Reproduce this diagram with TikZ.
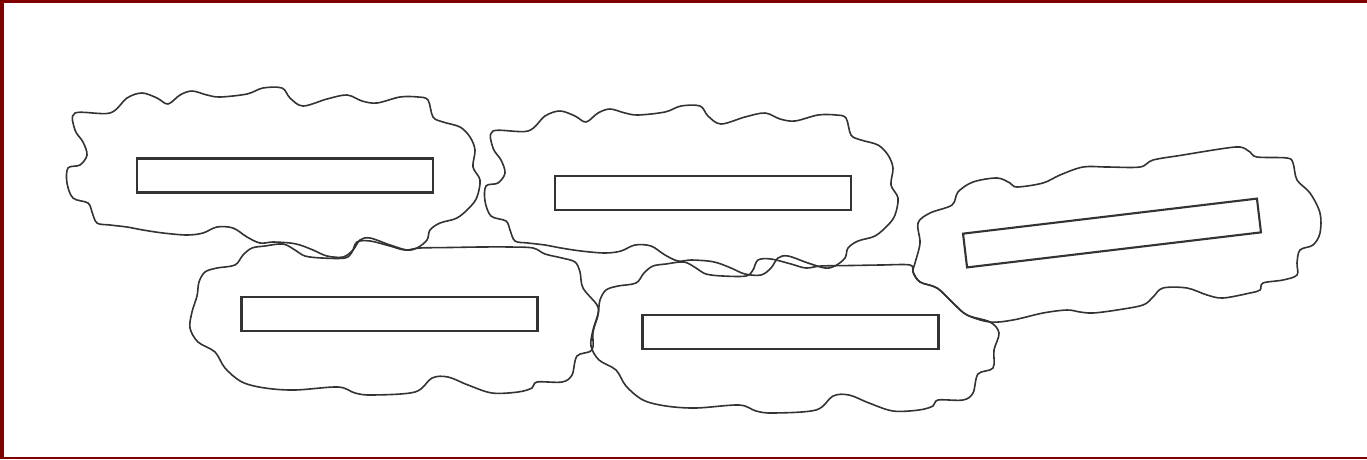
\documentclass[tikz,border=0pt]{standalone}
\begin{document}
\begin{tikzpicture}[x=1pt,y=-1pt,
  blob/.style={draw=black!80, line width=1.6pt, line join=round},
  bar/.style={draw=black!80, line width=2.1pt, minimum width=296pt, minimum height=34pt, inner sep=0pt},
  frame/.style={fill=red!50!black}]
\useasboundingbox (0,0) rectangle (1367,459);
\fill[frame] (0,0) rectangle (1367,3);
\fill[frame] (0,0) rectangle (4,459);
\fill[frame] (0,457) rectangle (1367,459);
\newcommand\blobshapeA{%
\draw[blob] plot[smooth cycle, tension=0.55] coordinates {
(75,113) (110,113) (127,98) (142,93) (157,98) (168,104) (180,95) (192,91) (207,95) (220,97)
(247,94) (263,88) (282,88) (290,98) (303,106) (327,99) (347,95) (362,101) (377,103) (400,97)
(418,97) (428,100) (433,117) (443,122) (460,127) (470,137) (475,150) (473,167) (480,180)
(477,197) (470,207) (457,218) (440,223) (430,230) (427,240) (417,248) (407,250) (390,245)
(370,238) (360,240) (353,250) (343,257) (327,256) (313,250) (300,245) (290,243) (273,242)
(260,243) (247,237) (233,228) (217,227) (203,233) (187,235) (163,233) (143,230) (127,227)
(110,225) (97,223) (92,212) (88,203) (73,198) (67,183) (68,168) (80,165) (87,155) (83,142) (75,130)};}
% blob 1 and 2
\blobshapeA
\begin{scope}[shift={(418,18)}]\blobshapeA\end{scope}
% blob 4
\draw[blob] plot[smooth cycle, tension=0.55] coordinates {
(190,328) (192,312) (197,296) (199,282) (205,272) (217,268) (235,265) (243,255) (252,248)
(265,246) (283,244) (295,250) (305,256) (322,258) (345,258) (352,252) (357,242) (370,241)
(390,246) (405,250) (420,248) (450,247.5) (480,247) (510,247) (533,248) (545,254) (562,258)
(575,262) (580,272) (583,288) (597,305) (598,315) (593,332) (592,350) (577,356) (572,375)
(562,382) (537,382) (532,388) (518,392) (492,393) (468,385) (448,377) (432,378) (415,392)
(372,395) (355,393) (338,387) (295,390) (265,388) (242,382) (225,368) (215,352) (198,342)};
% blob 5
\draw[blob] plot[smooth cycle, tension=0.55] coordinates {
(591,346) (593,330) (598,314) (600,300) (606,290) (618,286) (636,283) (644,273) (653,266)
(666,264) (684,262) (696,268) (706,274) (723,276) (746,276) (753,270) (758,260) (771,259)
(791,264) (806,268) (821,266) (851,265.5) (881,265) (910,265) (913,272) (920,282) (937,288)
(953,303) (967,315) (990,322) (999,333) (994,350) (993,368) (978,374) (973,393)
(963,400) (938,400) (933,406) (919,410) (893,411) (869,403) (849,395) (833,396) (816,410)
(773,413) (756,411) (739,405) (696,408) (666,406) (643,400) (626,386) (616,370) (599,360)};
% blob 3
\draw[blob] plot[smooth cycle, tension=0.55] coordinates {
(915,263) (920,243) (918,223) (930,213) (952,205) (958,192) (973,182) (997,178) (1010,183)
(1017,187) (1043,183) (1060,175) (1083,167) (1107,167) (1140,167) (1153,160) (1183,155)
(1220,149) (1240,147) (1250,152) (1257,157) (1287,158) (1293,163) (1297,180) (1310,193)
(1320,213) (1320,233) (1313,245) (1300,250) (1297,263) (1297,275) (1283,280) (1263,283)
(1260,290) (1250,293) (1223,298) (1207,295) (1187,288) (1163,288) (1153,297) (1143,305)
(1117,310) (1093,313) (1080,312) (1067,310) (1043,313) (1013,320) (990,322) (967,315)
(953,303) (937,288) (920,282) (913,272)};
% bars
\node[bar] (r1) at (285,175.5) {};
\node[bar] (r2) at (703,193) {};
\node[bar] (r4) at (389.5,314) {};
\node[bar] (r5) at (790.5,332) {};
\node[bar, rotate=6.8] (r3) at (1112,233) {};
\end{tikzpicture}
\end{document}
